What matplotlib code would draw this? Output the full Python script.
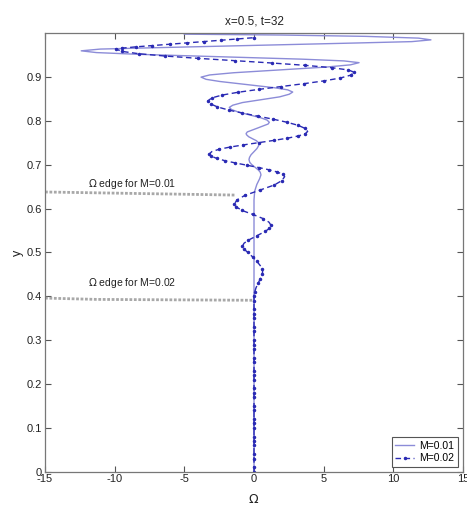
import matplotlib
matplotlib.use('Agg')
import matplotlib.pyplot as plt

plt.rcParams['font.family'] = ['Liberation Sans', 'DejaVu Sans']

# M=0.01 profile (omega, y)
omega_m01 = [0.0, 0.0, 0.05, 0.2, 0.4, 0.5,
             0.45, 0.32, 0.07, -0.18, -0.31, -0.36,
             -0.32, -0.21, 0.0, 0.21, 0.32, 0.36,
             0.31, 0.17, -0.11, -0.38, -0.52, -0.57,
             -0.48, -0.23, 0.27, 0.76, 1.01, 1.1,
             0.94, 0.51, -0.34, -1.18, -1.61, -1.77,
             -1.52, -0.83, 0.51, 1.84, 2.53, 2.78,
             2.42, 1.42, -0.51, -2.44, -3.44, -3.8,
             -3.18, -1.46, 1.87, 5.2, 6.92, 7.54,
             6.45, 3.43, -2.43, -8.29, -11.31, -12.4,
             -11.03, -7.23, 0.15, 7.53, 11.33, 12.7,
             11.8, 8.0, 2.0, -5.0]
y_m01 = [0.0, 0.62, 0.64, 0.655, 0.668, 0.677,
         0.683, 0.688, 0.6945, 0.701, 0.706, 0.712,
         0.717, 0.723, 0.73, 0.737, 0.743, 0.748,
         0.751, 0.755, 0.7595, 0.764, 0.768, 0.771,
         0.775, 0.778, 0.784, 0.79, 0.793, 0.797,
         0.802, 0.807, 0.814, 0.821, 0.826, 0.831,
         0.836, 0.842, 0.8485, 0.855, 0.861, 0.866,
         0.871, 0.876, 0.883, 0.89, 0.895, 0.9,
         0.905, 0.91, 0.9165, 0.923, 0.928, 0.933,
         0.937, 0.941, 0.9465, 0.952, 0.956, 0.96,
         0.964, 0.967, 0.9725, 0.978, 0.981, 0.985,
         0.989, 0.993, 0.996, 0.998]

# M=0.02 profile (omega, y)
y_m02_flat = [0.0, 0.01, 0.02, 0.03, 0.04, 0.05, 0.06, 0.07, 0.08, 0.09,
              0.1, 0.11, 0.12, 0.13, 0.14, 0.15, 0.16, 0.17, 0.18, 0.19,
              0.2, 0.21, 0.22, 0.23, 0.24, 0.25, 0.26, 0.27, 0.28, 0.29,
              0.3, 0.31, 0.32, 0.33, 0.34, 0.35, 0.36, 0.37, 0.38, 0.39, 0.4]
omega_m02 = [0.0] * len(y_m02_flat) + [
    0.05, 0.15, 0.3, 0.45, 0.58, 0.62, 0.58, 0.45, 0.2, -0.1, -0.45, -0.72,
    -0.83, -0.72, -0.41, 0.2, 0.8, 1.11,
    1.22, 1.08, 0.68, -0.1, -0.87, -1.27,
    -1.41, -1.21, -0.67, 0.4, 1.46, 2.0,
    2.2, 2.07, 1.68, 1.09, 0.33, -0.5, -1.33, -2.09, -2.68, -3.07,
    -3.2, -3.03, -2.53, -1.75, -0.76, 0.33, 1.41, 2.4, 3.18, 3.68,
    3.85, 3.67, 3.17, 2.38, 1.38, 0.28, -0.83, -1.83, -2.62, -3.12,
    -3.3, -3.04, -2.3, -1.14, 0.33, 1.95, 3.57, 5.04, 6.2, 6.94,
    7.2, 6.78, 5.57, 3.68, 1.29, -1.35, -3.99, -6.38, -8.27, -9.48,
    -9.9, -9.5, -8.5, -7.3, -6.0, -4.8, -3.6, -2.4, -1.2, 0.0]
y_m02 = y_m02_flat + [
    0.41, 0.42, 0.43, 0.44, 0.45, 0.456, 0.463, 0.47, 0.48, 0.49, 0.5, 0.508,
    0.514, 0.521, 0.528, 0.538, 0.548, 0.555,
    0.562, 0.569, 0.577, 0.587, 0.596, 0.604,
    0.611, 0.62, 0.63, 0.642, 0.654, 0.664,
    0.673, 0.6782, 0.6834, 0.6886, 0.6938, 0.699, 0.7042, 0.7094, 0.7146, 0.7198,
    0.725, 0.7301, 0.7352, 0.7403, 0.7454, 0.7505, 0.7556, 0.7607, 0.7658, 0.7709,
    0.776, 0.783, 0.79, 0.797, 0.804, 0.811, 0.818, 0.825, 0.832, 0.839,
    0.846, 0.8525, 0.859, 0.8655, 0.872, 0.8785, 0.885, 0.8915, 0.898, 0.9045,
    0.911, 0.9163, 0.9216, 0.9269, 0.9322, 0.9375, 0.9428, 0.9481, 0.9534, 0.9587,
    0.964, 0.966, 0.969, 0.972, 0.975, 0.978, 0.981, 0.984, 0.987, 0.99]

# Omega edge markers
edge01_omega = [-15, -1.4]
edge01_y = [0.638, 0.631]
edge02_omega = [-15, -11.3, 0.0]
edge02_y = [0.396, 0.393, 0.391]

fig = plt.figure(figsize=(4.67, 5.09), dpi=100)
ax = fig.add_axes([0.0964, 0.0733, 0.895, 0.8613])

ax.plot(edge01_omega, edge01_y, color='#a8a8a8', lw=2.0, ls=(0, (1, 0.6)))
ax.plot(edge02_omega, edge02_y, color='#a8a8a8', lw=2.0, ls=(0, (1, 0.6)))

ax.plot(omega_m01, y_m01, color='#8c8cd8', lw=1.0, label='M=0.01')
ax.plot(omega_m02, y_m02, color='#2a2ab4', lw=1.0, ls=(0, (4, 2.5)),
        marker='.', markersize=3.0, markevery=0.01, label='M=0.02')

ax.text(-11.9, 0.657, r'$\Omega$ edge for M=0.01', fontsize=7.5, color='#222222', va='center')
ax.text(-11.9, 0.43, r'$\Omega$ edge for M=0.02', fontsize=7.5, color='#222222', va='center')

ax.set_xlim(-15, 15)
ax.set_ylim(0, 1)
ax.set_xticks([-15, -10, -5, 0, 5, 10, 15])
ax.set_xticklabels(['-15', '-10', '-5', '0', '5', '10', '15'])
ax.set_yticks([0, 0.1, 0.2, 0.3, 0.4, 0.5, 0.6, 0.7, 0.8, 0.9])
ax.set_yticklabels(['0', '0.1', '0.2', '0.3', '0.4', '0.5', '0.6', '0.7', '0.8', '0.9'])
ax.tick_params(direction='in', top=True, right=True, length=4, width=0.8,
               labelsize=8, colors='#555555', labelcolor='#222222', pad=2)
for s in ax.spines.values():
    s.set_color('#777777')
    s.set_linewidth(0.9)

ax.set_title('x=0.5, t=32', fontsize=8.5, color='#222222', pad=6)
ax.set_xlabel(r'$\Omega$', fontsize=9, color='#222222', labelpad=6)
ax.set_ylabel('y', fontsize=9, color='#222222', labelpad=2)

leg = ax.legend(loc='lower right', bbox_to_anchor=(0.988, 0.011), borderaxespad=0,
                fontsize=7.5, fancybox=False, framealpha=1, edgecolor='#555555',
                handlelength=1.8, handletextpad=0.5, borderpad=0.35, labelspacing=0.2)
leg.get_frame().set_linewidth(0.8)

fig.savefig('out.png', dpi=100)
